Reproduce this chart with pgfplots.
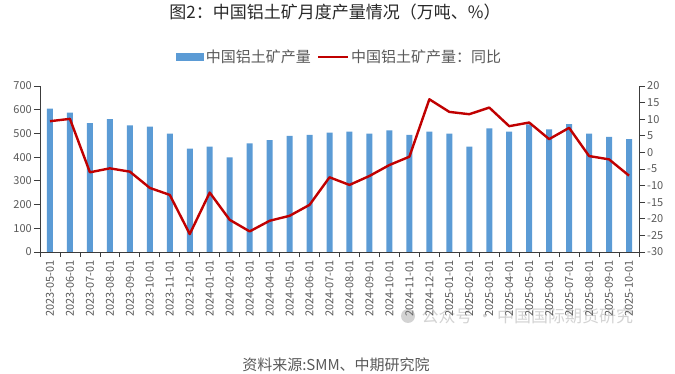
\documentclass[border=0pt]{standalone}
\usepackage{pgfplots}
\usepackage{pgfplotstable}
\pgfplotsset{compat=1.18}
\usepackage{fontspec}
\setmainfont{Noto Sans CJK SC}
\definecolor{barblue}{RGB}{91,155,213}
\definecolor{linered}{RGB}{192,0,0}
\definecolor{txtgray}{RGB}{89,89,89}
\definecolor{axgray}{RGB}{60,60,60}

\pgfplotstableread{
x prod yoy
0 605 9.4
1 588 10.1
2 543 -6.0
3 560 -4.8
4 534 -5.8
5 529 -10.7
6 499 -12.8
7 436 -24.6
8 444 -12.1
9 399 -20.3
10 458 -23.8
11 472 -20.6
12 490 -19.1
13 494 -15.8
14 503 -7.5
15 508 -9.8
16 499 -7.1
17 513 -3.8
18 494 -1.3
19 508 16.0
20 499 12.2
21 444 11.5
22 521 13.5
23 508 7.9
24 538 9.0
25 517 4.0
26 539 7.4
27 499 -1.1
28 485 -2.1
29 476 -7.0
}\datatable

\begin{document}
\begin{tikzpicture}
\path[use as bounding box] (0pt,0pt) rectangle (675pt,374pt);
\begin{axis}[
  at={(40pt,122pt)}, anchor=south west,
  width=599pt, height=166pt, scale only axis,
  xmin=-0.5, xmax=29.5, ymin=0, ymax=700,
  ytick={0,100,...,700},
  axis y line*=left, axis x line*=bottom,
  axis line style={axgray, line width=0.8pt},
  tick style={axgray, line width=0.8pt},
  tick align=outside,
  xtick={0,...,29},
  xticklabels={2023-05-01,2023-06-01,2023-07-01,2023-08-01,2023-09-01,2023-10-01,2023-11-01,2023-12-01,2024-01-01,2024-02-01,2024-03-01,2024-04-01,2024-05-01,2024-06-01,2024-07-01,2024-08-01,2024-09-01,2024-10-01,2024-11-01,2024-12-01,2025-01-01,2025-02-01,2025-03-01,2025-04-01,2025-05-01,2025-06-01,2025-07-01,2025-08-01,2025-09-01,2025-10-01},
  major x tick style={draw=none},
  major tick length=6pt,
  minor xtick={-0.5,0.5,...,29.5},
  minor tick length=5pt,
  x tick label style={rotate=90, anchor=east, font=\fontsize{11}{12}\selectfont, text=txtgray, inner sep=0pt},
  xticklabel shift=2pt,
  y tick label style={font=\fontsize{11}{12}\selectfont, text=txtgray, inner sep=0pt},
  yticklabel shift=2pt,
  /pgf/number format/assume math mode=true,
  legend columns=2,
  legend style={at={(0.5,1)}, anchor=center, yshift=29pt, draw=none, fill=none,
    font=\fontsize{15}{16}\selectfont, text=txtgray,
    /tikz/every even column/.append style={column sep=4pt},
    inner sep=0pt, cells={anchor=west}},
  clip=false,
]
\addplot[ybar, bar width=6pt, fill=barblue, draw=none,
  legend image code/.code={\fill[barblue] (0pt,-4pt) rectangle (28pt,4pt);}]
  table[x=x, y=prod] {\datatable};
\addlegendentry{中国铝土矿产量}
\addlegendimage{legend image code/.code={\draw[linered, line width=2.4pt] (0pt,0pt) -- (30pt,0pt);}}
\addlegendentry{中国铝土矿产量：同比}
\end{axis}
\begin{axis}[
  at={(40pt,122pt)}, anchor=south west,
  width=599pt, height=166pt, scale only axis,
  xmin=-0.5, xmax=29.5, ymin=-30, ymax=20,
  ytick={-30,-25,...,20},
  axis y line*=right, axis x line=none,
  axis line style={axgray, line width=0.8pt},
  tick style={axgray, line width=0.8pt},
  tick align=outside,
  major tick length=6pt,
  y tick label style={font=\fontsize{11}{12}\selectfont, text=txtgray, inner sep=0pt},
  yticklabel shift=2pt,
  /pgf/number format/assume math mode=true,
]
\addplot[linered, line width=2.4pt, line join=round, mark=none]
  table[x=x, y=yoy] {\datatable};
\end{axis}
\node[font=\fontsize{17}{18}\selectfont, text={rgb,255:red,40;green,40;blue,40}] at (335pt,362pt) {图2：中国铝土矿月度产量情况（万吨、\%）};
\node[font=\fontsize{15}{16}\selectfont, text=txtgray] at (336pt,9pt) {资料来源:SMM、中期研究院};
\fill[gray, opacity=0.35] (408pt,58pt) circle (7pt);
\node[font=\fontsize{17}{18}\selectfont, text=gray, text opacity=0.35, anchor=west] at (418pt,58pt) {公众号 · 中国国际期货研究};
\end{tikzpicture}
\end{document}
